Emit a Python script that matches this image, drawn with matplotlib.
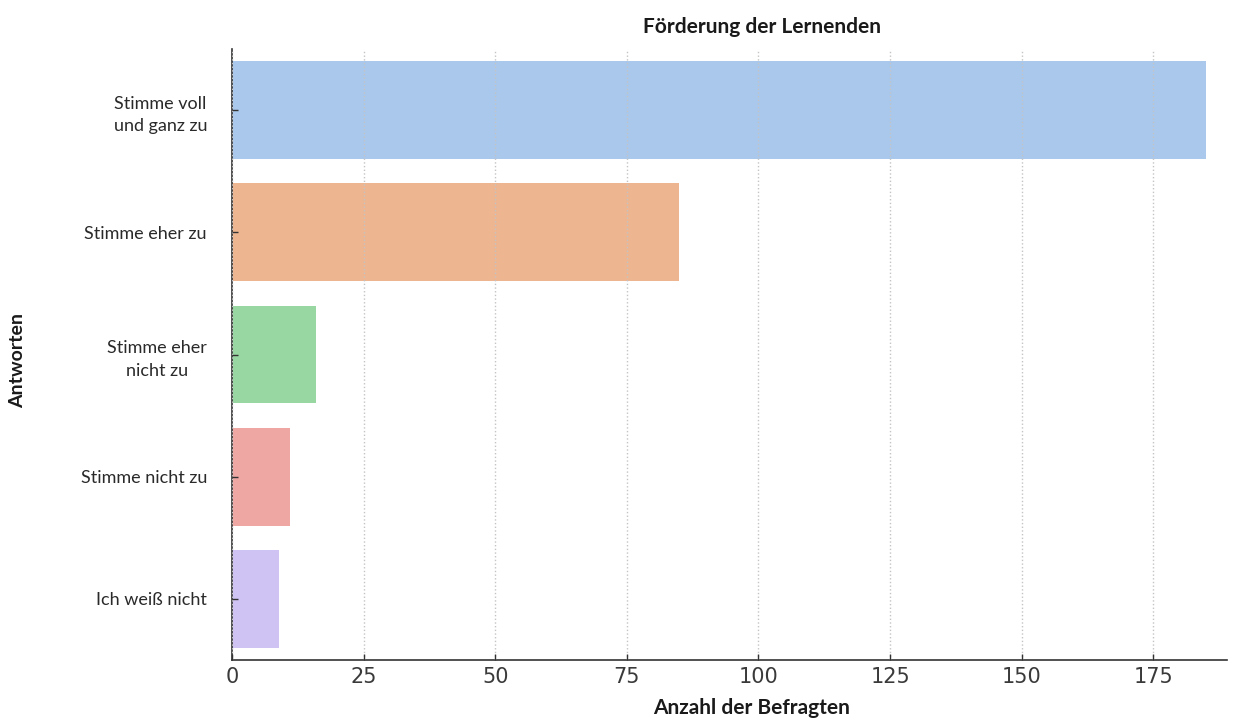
import matplotlib
matplotlib.use("Agg")
import matplotlib.pyplot as plt

categories = ["Stimme voll\nund ganz zu", "Stimme eher zu", "Stimme eher\nnicht zu",
              "Stimme nicht zu", "Ich weiß nicht"]
counts = [185, 85, 16, 11, 9]
xticks = [0, 25, 50, 75, 100, 125, 150, 175]

# muted pastel tones as in the reference
colors = ["#a9c8ec", "#edb590", "#98d6a2", "#efa7a4", "#cfc3f4"]

fig = plt.figure(figsize=(12.57, 7.2), dpi=100)
ax = fig.add_axes([232 / 1257, 60 / 720, 995 / 1257, 611 / 720])

ypos = list(range(len(categories)))
ax.barh(ypos, counts, height=0.8, color=colors, zorder=1)
ax.set_ylim(4.5, -0.5)
ax.set_xlim(0, 189)

ax.set_xticks(xticks)
ax.set_xticklabels([str(t) for t in xticks], fontsize=15, family="DejaVu Sans", color="#3a3a3a")
ax.set_yticks(ypos)
ax.set_yticklabels(categories, fontsize=13, family="Lato", color="#2a2a2a",
                   linespacing=1.5, multialignment="center")
ax.tick_params(axis="both", direction="in", length=4, width=1, color="#333333")
ax.tick_params(axis="x", pad=5)
ax.tick_params(axis="y", pad=18)

ax.grid(axis="x", linestyle=":", color="#c4c4c4", linewidth=1, zorder=2)
ax.set_axisbelow(False)

for s in ["top", "right"]:
    ax.spines[s].set_visible(False)
for s in ["left", "bottom"]:
    ax.spines[s].set_color("#333333")
    ax.spines[s].set_linewidth(1.2)

fig.text(762 / 1257, 1 - 27 / 720, "Förderung der Lernenden", ha="center", va="center",
         fontsize=15, fontweight="bold", family="Lato", color="#1a1a1a")
fig.text(752 / 1257, 1 - 708 / 720, "Anzahl der Befragten", ha="center", va="center",
         fontsize=15, fontweight="bold", family="Lato", color="#1a1a1a")
fig.text(18 / 1257, 1 - 360 / 720, "Antworten", ha="center", va="center", rotation=90,
         fontsize=14, fontweight="bold", family="Lato", color="#1a1a1a")

fig.savefig("out.png", dpi=100, facecolor="white")
